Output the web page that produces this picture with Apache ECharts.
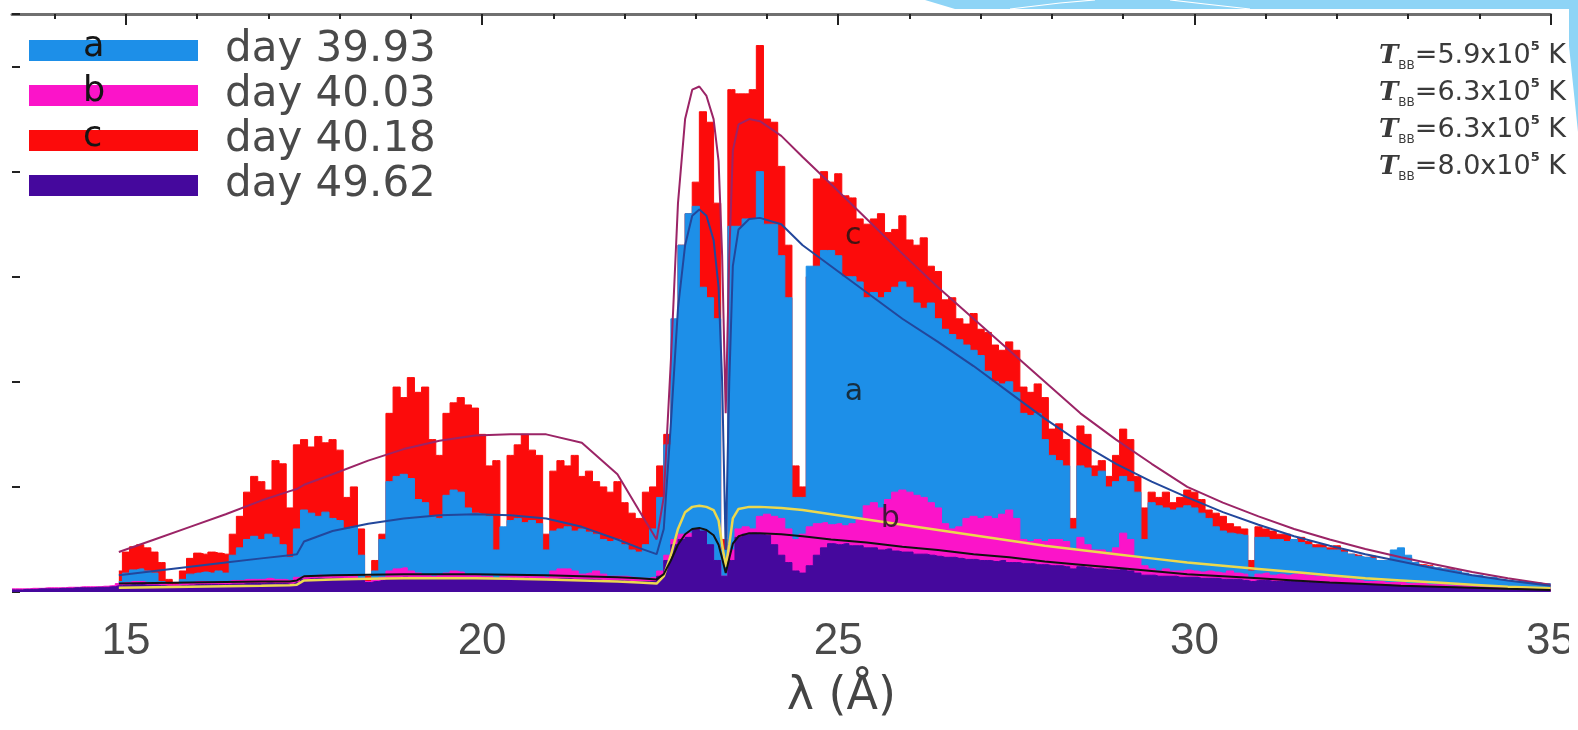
<!DOCTYPE html>
<html><head><meta charset="utf-8">
<script src="https://cdn.jsdelivr.net/npm/echarts@6/dist/echarts.min.js"></script>
<style>html,body{margin:0;padding:0;background:#fff}#c{width:1578px;height:730px}</style>
</head><body><div id="c"></div>
<script>
// ---- data ----
const BIN = 0.1;          // wavelength bin, Angstrom
const START_AC = 14.9;    // first bin of spectra a and c
const START_BD = 13.4;    // first bin of spectra b and d

const SERIES_NAMES = ['day 39.93', 'day 40.03', 'day 40.18', 'day 49.62'];

// day 40.18 (c, red)
const SPEC_C = [
0.2,0.38,0.43,0.45,0.42,0.38,0.28,0.12,0.09,0.2,
0.32,0.37,0.36,0.38,0.37,0.36,0.55,0.72,0.95,1.1,
1.05,0.97,1.25,1.22,0.8,1.4,1.45,1.38,1.48,1.42,
1.45,1.35,0.9,1.0,0.6,0.15,0.3,0.55,1.7,1.95,
1.85,2.04,1.9,1.95,1.45,1.3,1.7,1.8,1.85,1.78,
1.75,1.5,1.2,1.25,0.4,1.3,1.4,1.5,1.35,1.3,
0.55,1.15,1.25,1.2,1.3,1.1,1.15,1.05,1.0,0.95,
1.05,0.85,0.75,0.7,0.95,1.0,1.2,1.5,2.2,3.3,
3.6,3.9,4.57,4.47,3.7,0.5,4.78,4.74,4.74,4.78,
5.2,4.5,4.47,4.05,3.3,1.2,1.0,3.0,3.93,4.0,
3.9,3.98,3.77,3.75,3.55,3.5,3.55,3.6,3.42,3.45,
3.58,3.35,3.3,3.37,3.1,3.05,2.78,2.8,2.6,2.55,
2.65,2.5,2.47,2.35,2.3,2.38,2.3,1.95,1.9,1.98,
1.85,1.55,1.6,1.45,0.7,1.58,1.5,1.2,1.25,1.1,
1.3,1.55,1.45,1.1,0.8,0.95,0.9,0.95,0.85,0.9,
0.97,0.95,0.88,0.78,0.75,0.72,0.65,0.62,0.6,0.3,
0.62,0.6,0.58,0.55,0.55,0.5,0.52,0.48,0.45,0.45,
0.42,0.44,0.4,0.36,0.35,0.33,0.34,0.3,0.3,0.36,
0.37,0.33,0.28,0.26,0.25,0.23,0.22,0.22,0.2,0.17,
0.15,0.15,0.13,0.13,0.11,0.1,0.1,0.09,0.08,0.08,
0.07,0.07];

// day 39.93 (a, blue)
const SPEC_A = [
0.1,0.18,0.21,0.22,0.2,0.18,0.1,0.05,0.03,0.12,
0.17,0.18,0.19,0.18,0.2,0.18,0.35,0.42,0.5,0.53,
0.5,0.55,0.52,0.45,0.33,0.6,0.78,0.75,0.72,0.76,
0.7,0.68,0.6,0.62,0.35,0.08,0.2,0.5,1.05,1.1,
1.12,1.08,0.88,0.85,0.72,0.7,0.92,0.97,0.95,0.8,
0.75,0.74,0.72,0.4,0.62,0.68,0.7,0.66,0.68,0.65,
0.4,0.58,0.6,0.62,0.58,0.6,0.57,0.55,0.5,0.48,
0.5,0.45,0.4,0.38,0.45,0.6,0.9,1.4,2.6,3.3,
3.6,3.67,2.9,2.8,2.6,0.4,3.48,3.48,3.55,3.55,
4.0,3.5,3.5,3.2,2.8,0.9,0.9,3.1,3.1,3.25,
3.25,3.2,3.0,3.0,2.95,2.8,2.85,2.8,2.85,2.9,
2.95,2.9,2.75,2.7,2.75,2.6,2.5,2.45,2.4,2.35,
2.3,2.25,2.1,2.0,1.98,2.0,1.9,1.7,1.68,1.7,
1.45,1.3,1.25,1.2,0.6,1.2,1.18,1.1,1.15,1.0,
1.05,1.1,1.05,0.95,0.5,0.85,0.82,0.8,0.78,0.8,
0.82,0.8,0.75,0.7,0.62,0.58,0.56,0.55,0.54,0.2,
0.52,0.52,0.5,0.5,0.48,0.5,0.47,0.45,0.42,0.42,
0.4,0.4,0.38,0.36,0.34,0.33,0.32,0.3,0.3,0.4,
0.42,0.35,0.28,0.25,0.24,0.23,0.22,0.21,0.2,0.18,
0.16,0.16,0.14,0.14,0.12,0.11,0.1,0.1,0.09,0.09,
0.08,0.08];

// day 40.03 (b, magenta)
const SPEC_B = [
0.03,0.03,0.03,0.035,0.035,0.04,0.04,0.04,0.045,0.045,
0.05,0.05,0.05,0.055,0.06,
0.08,0.09,0.1,0.1,0.09,0.09,0.08,0.07,0.07,0.08,
0.09,0.1,0.1,0.09,0.1,0.1,0.11,0.11,0.12,0.12,
0.12,0.13,0.12,0.12,0.11,0.14,0.15,0.15,0.16,0.15,
0.15,0.16,0.15,0.15,0.13,0.1,0.12,0.14,0.2,0.22,
0.23,0.2,0.18,0.16,0.15,0.16,0.18,0.2,0.19,0.16,
0.16,0.15,0.15,0.13,0.15,0.16,0.15,0.16,0.15,0.15,
0.14,0.2,0.22,0.22,0.2,0.17,0.18,0.2,0.17,0.15,
0.15,0.15,0.14,0.13,0.13,0.14,0.2,0.35,0.5,0.55,
0.56,0.55,0.55,0.4,0.25,0.15,0.4,0.6,0.62,0.6,
0.72,0.74,0.72,0.7,0.6,0.5,0.55,0.62,0.65,0.66,
0.64,0.65,0.63,0.65,0.7,0.82,0.85,0.8,0.88,0.95,
0.97,0.95,0.92,0.9,0.85,0.8,0.65,0.6,0.62,0.7,
0.72,0.7,0.72,0.7,0.74,0.78,0.7,0.5,0.48,0.5,
0.48,0.5,0.5,0.48,0.4,0.52,0.45,0.4,0.4,0.38,
0.42,0.56,0.5,0.33,0.25,0.22,0.2,0.22,0.2,0.2,
0.21,0.2,0.19,0.2,0.19,0.18,0.2,0.18,0.17,0.14,
0.17,0.18,0.16,0.17,0.16,0.17,0.18,0.16,0.15,0.15,
0.14,0.14,0.13,0.12,0.11,0.1,0.1,0.1,0.09,0.09,
0.09,0.08,0.08,0.08,0.07,0.07,0.07,0.06,0.06,0.06,
0.05,0.05,0.05,0.05,0.04,0.04,0.04,0.04,0.03,0.03,
0.03,0.03];

// day 49.62 (d, purple)
const SPEC_D = [
0.02,0.02,0.025,0.025,0.03,0.03,0.03,0.035,0.035,0.04,
0.04,0.04,0.045,0.045,0.05,
0.06,0.065,0.07,0.07,0.065,0.065,0.06,0.055,0.055,0.06,
0.065,0.07,0.07,0.07,0.07,0.07,0.075,0.075,0.08,0.08,
0.08,0.085,0.08,0.08,0.075,0.09,0.12,0.125,0.13,0.125,
0.13,0.13,0.125,0.12,0.11,0.09,0.1,0.11,0.13,0.135,
0.14,0.135,0.13,0.13,0.125,0.13,0.13,0.135,0.13,0.13,
0.13,0.13,0.125,0.12,0.125,0.13,0.125,0.13,0.125,0.12,
0.115,0.12,0.125,0.125,0.12,0.12,0.12,0.115,0.11,0.11,
0.11,0.105,0.1,0.1,0.1,0.1,0.15,0.3,0.45,0.5,
0.52,0.6,0.58,0.45,0.3,0.15,0.3,0.52,0.55,0.56,
0.55,0.54,0.45,0.35,0.28,0.2,0.18,0.25,0.35,0.42,
0.46,0.45,0.46,0.44,0.44,0.42,0.42,0.4,0.41,0.39,
0.38,0.38,0.36,0.36,0.35,0.34,0.33,0.33,0.32,0.31,
0.31,0.3,0.3,0.29,0.3,0.28,0.28,0.27,0.27,0.26,
0.26,0.25,0.25,0.24,0.22,0.24,0.23,0.22,0.22,0.21,
0.21,0.22,0.2,0.18,0.16,0.16,0.15,0.15,0.15,0.14,
0.14,0.14,0.13,0.13,0.13,0.12,0.12,0.12,0.11,0.1,
0.11,0.11,0.1,0.1,0.1,0.1,0.095,0.09,0.09,0.085,
0.085,0.08,0.08,0.075,0.075,0.07,0.07,0.065,0.065,0.06,
0.06,0.058,0.055,0.052,0.05,0.048,0.046,0.045,0.044,0.042,
0.04,0.038,0.036,0.034,0.032,0.03,0.028,0.026,0.024,0.022,
0.02,0.02];

// blackbody model curves, sampled at MODEL_LAM
const MODEL_LAM = [14.9,15.4,15.9,16.4,16.9,17.3,17.4,17.5,17.9,18.4,18.9,19.4,19.9,20.4,20.9,21.4,21.9,22.2,22.45,22.55,22.65,22.75,22.85,22.95,23.05,23.15,23.25,23.32,23.37,23.42,23.47,23.52,23.6,23.75,23.9,24.2,24.5,24.9,25.4,25.9,26.4,26.9,27.4,27.9,28.4,28.9,29.4,29.9,30.4,30.9,31.4,31.9,32.4,32.9,33.4,33.9,34.4,35.0];
const MODEL_C = [0.38,0.5,0.62,0.74,0.87,0.96,0.98,1.02,1.12,1.25,1.36,1.44,1.49,1.5,1.5,1.42,1.12,0.78,0.5,0.9,2.2,3.7,4.5,4.78,4.81,4.72,4.5,4.1,3.2,1.7,3.2,4.2,4.45,4.5,4.48,4.34,4.14,3.88,3.55,3.22,2.9,2.6,2.3,2.0,1.7,1.45,1.22,1.0,0.85,0.72,0.6,0.5,0.41,0.33,0.26,0.19,0.13,0.07];
const MODEL_A = [0.16,0.2,0.24,0.28,0.32,0.35,0.36,0.48,0.58,0.65,0.7,0.73,0.74,0.73,0.7,0.62,0.5,0.42,0.36,0.6,1.6,2.7,3.3,3.58,3.64,3.58,3.35,2.9,2.0,0.4,2.0,3.1,3.45,3.55,3.56,3.5,3.3,3.1,2.85,2.6,2.38,2.15,1.9,1.65,1.42,1.22,1.05,0.9,0.76,0.64,0.53,0.44,0.36,0.29,0.22,0.16,0.11,0.06];
const MODEL_B = [0.04,0.045,0.05,0.055,0.06,0.065,0.07,0.11,0.12,0.125,0.13,0.13,0.13,0.125,0.12,0.11,0.1,0.09,0.08,0.15,0.35,0.6,0.76,0.81,0.82,0.81,0.78,0.68,0.45,0.24,0.45,0.7,0.79,0.81,0.81,0.8,0.78,0.74,0.69,0.64,0.59,0.54,0.49,0.44,0.4,0.36,0.32,0.28,0.25,0.22,0.19,0.16,0.13,0.11,0.09,0.07,0.05,0.035];
const MODEL_D = [0.08,0.085,0.09,0.095,0.1,0.1,0.11,0.15,0.16,0.165,0.17,0.17,0.17,0.165,0.16,0.15,0.14,0.13,0.12,0.17,0.3,0.45,0.55,0.6,0.61,0.59,0.54,0.45,0.32,0.18,0.32,0.46,0.53,0.56,0.56,0.55,0.53,0.5,0.47,0.43,0.4,0.36,0.33,0.29,0.26,0.23,0.2,0.17,0.15,0.13,0.11,0.09,0.075,0.06,0.05,0.04,0.03,0.02];

const X_MIN = 13.4, X_MAX = 35;
const X_TICKS = [15, 20, 25, 30, 35];
const TOP_MINOR_TICKS = [14,15,16,17,18,19,20,21,22,23,24,25,26,27,28,29,30,31,32,33,34,35];
const TBB_VALUES = ['5.9', '6.3', '6.3', '8.0'];
const CURVE_LABELS = [['a', 25.22, 1.9], ['b', 25.73, 0.69], ['c', 25.21, 3.39]];

// ---- build ----
const COL = {a: '#1d8fe8', b: '#fb14c9', c: '#fc0b0b', d: '#45089d'};
function binned(start, vals) { return vals.map((v, i) => [+(start + i * BIN).toFixed(2), v]); }
function model(vals) { return vals.map((v, i) => [MODEL_LAM[i], v]); }
function spec(name, color, start, vals, z) {
  return {name, type: 'line', step: 'middle', symbol: 'none', z, data: binned(start, vals),
    itemStyle: {color}, lineStyle: {color, width: 1}, areaStyle: {color, opacity: 1}};
}
function modelLine(color, vals, width, z) {
  return {type: 'line', symbol: 'none', z, data: model(vals), smooth: false,
    lineStyle: {color, width}, silent: true};
}

const chart = echarts.init(document.getElementById('c'), null, {renderer: 'canvas'});
const tbbText = TBB_VALUES.map((v, i) => ({
  type: 'text', right: 12, top: 40 + i * 37, z: 100,
  style: {text: '{t|T}{s|BB}{n|=' + v + 'x10}{p|5}{n| K}', fill: '#333',
    rich: {
      t: {fontFamily: 'DejaVu Serif', fontStyle: 'italic', fontWeight: 'bold', fontSize: 26, lineHeight: 32, fill: '#3a3a3a'},
      s: {fontFamily: 'DejaVu Sans', fontSize: 12, lineHeight: 30, verticalAlign: 'bottom', fill: '#3a3a3a'},
      n: {fontFamily: 'DejaVu Sans', fontSize: 27, lineHeight: 32, fill: '#3a3a3a'},
      p: {fontFamily: 'DejaVu Sans', fontWeight: 'bold', fontSize: 13, lineHeight: 32, verticalAlign: 'top', fill: '#3a3a3a'}
    }}
}));
const legendLetters = ['a', 'b', 'c'].map((t, i) => ({
  type: 'text', left: 83, top: 29 + i * 45, z: 100,
  style: {text: t, fontFamily: 'DejaVu Sans', fontSize: 35, fill: '#151515'}
}));

chart.setOption({
  animation: false,
  backgroundColor: '#ffffff',
  grid: {left: 12, right: 8, top: 14, bottom: 138, containLabel: false},
  legend: {
    data: SERIES_NAMES, orient: 'vertical', left: 29, top: 28, icon: 'rect',
    itemWidth: 169, itemHeight: 21, itemGap: 0, padding: 0, selectedMode: false,
    textStyle: {fontFamily: 'DejaVu Sans', fontSize: 42, lineHeight: 45, color: '#4a4a4a', padding: [0, 0, 0, 22]}
  },
  xAxis: [
    {type: 'value', min: X_MIN, max: X_MAX, position: 'bottom',
      axisLine: {show: false}, axisTick: {show: false}, splitLine: {show: false},
      axisLabel: {customValues: X_TICKS, fontFamily: 'Liberation Sans', fontSize: 44, color: '#4a4a4a', margin: 28},
      name: 'λ (Å)', nameLocation: 'middle', nameGap: 82,
      nameTextStyle: {fontFamily: 'DejaVu Sans', fontSize: 46, color: '#444', padding: [0, 0, 0, 120]}},
    {type: 'value', min: X_MIN, max: X_MAX, position: 'top',
      axisLine: {show: true, lineStyle: {color: '#707070', width: 3}},
      axisTick: {show: true, customValues: TOP_MINOR_TICKS, inside: true, length: 5, lineStyle: {color: '#222', width: 2}},
      axisLabel: {show: false}, splitLine: {show: false}},
    {type: 'value', min: X_MIN, max: X_MAX, position: 'top',
      axisLine: {show: false},
      axisTick: {show: true, customValues: X_TICKS, inside: true, length: 11, lineStyle: {color: '#222', width: 2}},
      axisLabel: {show: false}, splitLine: {show: false}}
  ],
  yAxis: {type: 'value', min: 0, max: 5.5, interval: 1,
    axisLine: {show: false}, axisLabel: {show: false}, splitLine: {show: false},
    axisTick: {show: true, inside: true, length: 8, lineStyle: {color: '#222', width: 2}}},
  graphic: [
    ...tbbText,
    ...legendLetters,
    {type: 'rect', left: 1569, top: 0, z: 90, shape: {width: 9, height: 730}, style: {fill: '#ffffff'}},
    {type: 'polygon', z: 95, shape: {points: [[925, 0], [1578, 0], [1578, 132], [1569, 46], [1569, 9], [955, 9]]},
      style: {fill: '#8ed4f6'}},
    {type: 'polyline', z: 96, shape: {points: [[1010, 9], [1060, 3], [1095, 0]]}, style: {stroke: '#ffffff', lineWidth: 1.2, fill: null}},
    {type: 'polyline', z: 96, shape: {points: [[1170, 0], [1205, 4], [1250, 9]]}, style: {stroke: '#ffffff', lineWidth: 1.2, fill: null}}
  ],
  series: [
    spec(SERIES_NAMES[2], COL.c, START_AC, SPEC_C, 2),
    spec(SERIES_NAMES[0], COL.a, START_AC, SPEC_A, 3),
    spec(SERIES_NAMES[1], COL.b, START_BD, SPEC_B, 4),
    spec(SERIES_NAMES[3], COL.d, START_BD, SPEC_D, 5),
    modelLine('#9b2466', MODEL_C, 2, 6),
    modelLine('#22479c', MODEL_A, 2, 6),
    modelLine('#ecd84e', MODEL_B, 2.5, 6),
    modelLine('#111111', MODEL_D, 2, 7),
    {type: 'scatter', z: 8, symbolSize: 0, silent: true,
      data: CURVE_LABELS.map(d => [d[1], d[2], d[0]]),
      label: {show: true, position: 'inside', formatter: p => p.data[2],
        fontFamily: 'DejaVu Sans', fontSize: 30, color: '#151515'}}
  ]
});
</script>
</body></html>
